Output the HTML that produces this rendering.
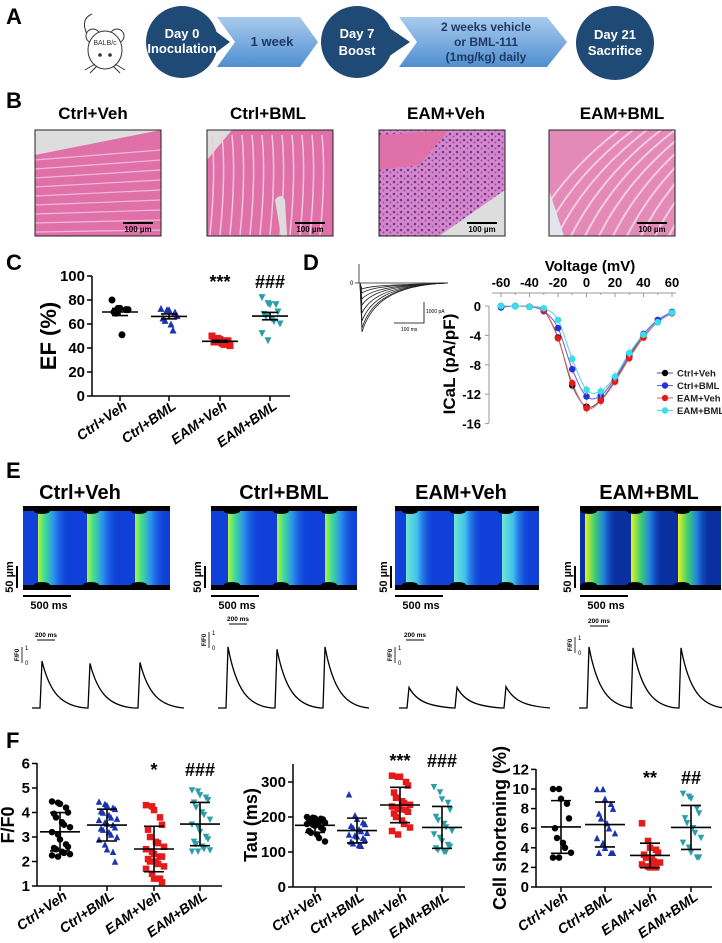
<!DOCTYPE html>
<html><head><meta charset="utf-8"><style>
body{margin:0;background:#fff}
svg{display:block;font-family:"Liberation Sans",Arial,sans-serif}
</style></head><body>
<svg id="fig" width="722" height="943" viewBox="0 0 722 943" xmlns="http://www.w3.org/2000/svg">
<defs>
<linearGradient id="arrowGrad" x1="0" y1="0" x2="0" y2="1"><stop offset="0" stop-color="#a9cbee"/><stop offset="1" stop-color="#4f8fd0"/></linearGradient>
<linearGradient id="bandG" x1="0" y1="0" x2="1" y2="0"><stop offset="0" stop-color="#b8f040"/><stop offset="0.2" stop-color="#40e090"/><stop offset="0.5" stop-color="#2c8ff0"/><stop offset="1" stop-color="#1040d8" stop-opacity="0"/></linearGradient>
<linearGradient id="bandC" x1="0" y1="0" x2="1" y2="0"><stop offset="0" stop-color="#70e8d0"/><stop offset="0.4" stop-color="#40c0f0"/><stop offset="1" stop-color="#1040d8" stop-opacity="0"/></linearGradient>
<linearGradient id="bandY" x1="0" y1="0" x2="1" y2="0"><stop offset="0" stop-color="#e8f020"/><stop offset="0.3" stop-color="#40d070"/><stop offset="0.6" stop-color="#2080e0"/><stop offset="1" stop-color="#0a30b0" stop-opacity="0"/></linearGradient>
<pattern id="nuclei" width="7" height="6" patternUnits="userSpaceOnUse"><rect width="7" height="6" fill="#d888c8"/><circle cx="2" cy="2" r="1.3" fill="#6a3a9a"/><circle cx="5.5" cy="4.5" r="1" fill="#8a50b0"/></pattern>
<clipPath id="clipB0"><rect x="35" y="130" width="126" height="106"/></clipPath>
<clipPath id="clipB1"><rect x="207" y="130" width="126" height="106"/></clipPath>
<clipPath id="clipB2"><rect x="379" y="130" width="126" height="106"/></clipPath>
<clipPath id="clipB3"><rect x="549" y="130" width="126" height="106"/></clipPath>
</defs>

<g>
<text x="6" y="24" font-size="22" font-weight="bold">A</text>
<g fill="#fff" stroke="#333" stroke-width="1">
<path d="M90 40 Q78 20 92 14" fill="none"/>
<circle cx="93" cy="36" r="7"/><circle cx="117" cy="36" r="7"/>
<ellipse cx="105" cy="50" rx="17" ry="19"/>
<circle cx="100" cy="55" r="1.3" fill="#333"/><circle cx="110" cy="55" r="1.3" fill="#333"/>
<path d="M95 64 L85 70 M115 64 L125 70 M97 66 L90 73 M113 66 L120 73" fill="none"/>
<text x="105" y="45" font-size="7" text-anchor="middle" fill="#333" stroke="none">BALB/c</text>
</g>
<g>
<circle cx="182" cy="42" r="36" fill="#1f4a75"/><polygon points="182,6 230,42 182,78" fill="#1f4a75"/>
<text x="182" y="38" font-size="13" font-weight="bold" fill="#fff" text-anchor="middle">Day 0</text>
<text x="182" y="53" font-size="13" font-weight="bold" fill="#fff" text-anchor="middle">Inoculation</text></g>
<g>
<polygon points="217,17 300,17 318,42 300,67 217,67 235,42" fill="url(#arrowGrad)"/>
<text x="272" y="46" font-size="13" font-weight="bold" fill="#1f3864" text-anchor="middle">1 week</text></g>
<g>
<circle cx="357" cy="42" r="36" fill="#1f4a75"/><polygon points="357,6 410,42 357,78" fill="#1f4a75"/>
<text x="357" y="38" font-size="13" font-weight="bold" fill="#fff" text-anchor="middle">Day 7</text>
<text x="357" y="55" font-size="13" font-weight="bold" fill="#fff" text-anchor="middle">Boost</text></g>
<g>
<polygon points="399,17 547,17 567,42 547,67 399,67 417,42" fill="url(#arrowGrad)"/>
<text x="486" y="31" font-size="12" font-weight="bold" fill="#1f3864" text-anchor="middle">2 weeks vehicle</text>
<text x="486" y="46" font-size="12" font-weight="bold" fill="#1f3864" text-anchor="middle">or BML-111</text>
<text x="486" y="61" font-size="12" font-weight="bold" fill="#1f3864" text-anchor="middle">(1mg/kg) daily</text></g>
<g>
<ellipse cx="615" cy="43" rx="39" ry="37" fill="#1f4a75"/>
<text x="615" y="39" font-size="13" font-weight="bold" fill="#fff" text-anchor="middle">Day 21</text>
<text x="615" y="55" font-size="13" font-weight="bold" fill="#fff" text-anchor="middle">Sacrifice</text></g>
</g>

<g id="panelB">
<text x="6" y="108" font-size="22" font-weight="bold">B</text>
</g>
<g id="panelC">
<text x="6" y="270" font-size="22" font-weight="bold">C</text>
</g>
<g id="panelD">
<text x="303" y="270" font-size="22" font-weight="bold">D</text>
</g>
<g id="panelE">
<text x="6" y="478" font-size="22" font-weight="bold">E</text>
</g>
<g id="panelF">
<text x="6" y="748" font-size="22" font-weight="bold">F</text>
</g>
</svg>
<script>
const groups = ["Ctrl+Veh","Ctrl+BML","EAM+Veh","EAM+BML"];
const efCtrlVeh = [80,73,73,72,72,70,69,51];
const efCtrlBml = [73,72,72,70,67,65,63,60,55];
const efEamVeh = [50,48,47,46,46,45,45,44,43,42];
const efEamBml = [82,77,76,76,70,68,66,64,62,60,52,46];
const efTicks = [0,20,40,60,80,100];

const voltages = [-60,-50,-40,-30,-20,-10,0,10,20,30,40,50,60];
const icalCtrlVeh = [0,0,-0.1,-0.6,-4.3,-10.8,-13.7,-12.8,-10.1,-6.9,-4.0,-2.1,-0.9];
const icalCtrlBml = [-0.2,0,-0.1,-0.7,-3.0,-8.6,-12.3,-12.2,-9.8,-6.6,-3.8,-1.9,-0.8];
const icalEamVeh = [0,0,-0.1,-0.6,-4.4,-10.5,-13.9,-12.9,-10.3,-7.1,-4.3,-2.2,-1.0];
const icalEamBml = [0,0,-0.1,-0.3,-1.9,-7.2,-11.4,-11.6,-9.6,-6.4,-3.9,-2.2,-0.9];
const icalXTicks = [-60,-40,-20,0,20,40,60];
const icalYTicks = [0,-4,-8,-12,-16];

const ffCtrlVeh = [4.45,4.4,4.35,4.2,4.0,3.95,3.8,3.6,3.5,3.4,3.2,3.1,2.9,2.7,2.6,2.55,2.5,2.4,2.35,2.3,2.25,2.2];
const ffCtrlBml = [4.45,4.35,4.3,4.2,4.15,4.05,4.0,3.9,3.8,3.75,3.7,3.6,3.55,3.5,3.4,3.35,3.3,3.2,3.1,3.0,2.9,2.7,2.5,2.4,2.0];
const ffEamVeh = [4.3,4.25,4.1,3.8,3.5,3.3,3.0,2.8,2.75,2.6,2.5,2.4,2.3,2.2,2.2,2.1,2.0,2.0,1.9,1.8,1.7,1.5,1.3,1.3,1.15];
const ffEamBml = [4.9,4.85,4.7,4.6,4.5,4.4,4.2,4.0,3.9,3.7,3.5,3.4,3.2,3.0,2.9,2.8,2.7,2.6,2.5,2.45,2.4,2.4];
const ffTicks = [1,2,3,4,5,6];

const tauCtrlVeh = [200,198,196,195,193,192,190,188,186,184,180,178,175,170,165,160,155,150,140,130];
const tauCtrlBml = [265,205,195,185,180,175,170,165,160,155,150,148,145,140,135,130,125,120,118];
const tauEamVeh = [318,315,315,300,290,270,255,245,240,235,230,225,222,220,215,210,200,190,180,170,160,150];
const tauEamBml = [285,270,250,240,220,200,190,180,170,160,150,140,130,120,115,110,105,100,100];
const tauTicks = [0,100,200,300];

const csCtrlVeh = [10,10,9,8.5,7,6,5,4.5,4,3.5,3,3];
const csCtrlBml = [10,10,9,8.5,8,7.5,7,6.5,6,5.5,5,4.5,4,3.5,3.5,3.5];
const csEamVeh = [6.5,4.7,4,3.8,3.5,3.3,3.0,2.8,2.6,2.5,2.3,2.1,2.0,2.0];
const csEamBml = [9.5,9.2,9,8,7.5,7,6.5,6,5.5,5,4.5,4,3.5,3,3];
const csTicks = [0,2,4,6,8,10,12];

const peakCtrlVeh = [1.0,0.95,0.97];
const peakCtrlBml = [1.3,1.25,1.3];
const peakEamVeh = [0.5,0.5,0.52];
const peakEamBml = [1.3,1.28,1.28];

const NS="http://www.w3.org/2000/svg";
function mk(parent,tag,attrs,text){const e=document.createElementNS(NS,tag);for(const k in attrs)e.setAttribute(k,attrs[k]);if(text!==undefined)e.textContent=text;parent.appendChild(e);return e;}
const colors=["#000","#1b33b0","#e51a1a","#2a9fa9"];
function marker(g,shape,x,y,s,c){
  let el;
  if(shape==="circle") el=mk(g,"circle",{cx:x,cy:y,r:s/2,fill:c});
  else if(shape==="square") el=mk(g,"rect",{x:x-s/2,y:y-s/2,width:s,height:s,fill:c});
  else if(shape==="up") el=mk(g,"polygon",{points:`${x},${y-s/2} ${x+s/2},${y+s/2} ${x-s/2},${y+s/2}`,fill:c});
  else el=mk(g,"polygon",{points:`${x-s/2},${y-s/2} ${x+s/2},${y-s/2} ${x},${y+s/2}`,fill:c});
  return el;
}
const shapes=["circle","up","square","down"];
function stats(a){const m=a.reduce((s,v)=>s+v,0)/a.length;const sd=Math.sqrt(a.reduce((s,v)=>s+(v-m)*(v-m),0)/(a.length-1));return{m,sd,sem:sd/Math.sqrt(a.length)};}

function scatterChart(g,o){
  const {ax,x1,y0,yTop,ysc,ticks,cats,series,err,ms,mean,cap,jit,signs,signY,fs}=o;
  mk(g,"line",{x1:ax,y1:yTop,x2:ax,y2:y0,stroke:"#000","stroke-width":1.5});
  mk(g,"line",{x1:ax,y1:y0,x2:x1,y2:y0,stroke:"#000","stroke-width":1.5});
  ticks.forEach(t=>{const y=ysc(t);
    const tl=mk(g,"line",{x1:ax-5,y1:y,x2:ax,y2:y,stroke:"#000","stroke-width":1.5});
    
    
    const tx=mk(g,"text",{x:ax-7,y:y+5,"font-size":fs||15,"font-weight":"bold","text-anchor":"end"},String(t));
    
    
  });
  cats.forEach((cx,i)=>{
    mk(g,"line",{x1:cx,y1:y0,x2:cx,y2:y0+5,stroke:"#000","stroke-width":1.5});
    const lb=mk(g,"text",{x:cx+8,y:y0+12,"font-size":14,"font-weight":"bold","font-style":"italic","text-anchor":"end",transform:`rotate(-35 ${cx+8} ${y0+12})`},groups[i]);
    
    
    const data=series[i];const sg=mk(g,"g",{});
    
    
    data.forEach((v,j)=>{const off=((j%5)-2)*jit+((j%2)?jit/2:0);
      const p=marker(sg,shapes[i],cx+off,ysc(v),ms,colors[i]);
      
      
    });
    const st=stats(data);const e=err==="sd"?st.sd:st.sem;
    const eg=mk(g,"g",{stroke:"#000","stroke-width":1.6});
    
    
    mk(eg,"line",{x1:cx-mean,y1:ysc(st.m),x2:cx+mean,y2:ysc(st.m)});
    mk(eg,"line",{x1:cx,y1:ysc(st.m+e),x2:cx,y2:ysc(st.m-e)});
    mk(eg,"line",{x1:cx-cap,y1:ysc(st.m+e),x2:cx+cap,y2:ysc(st.m+e)});
    mk(eg,"line",{x1:cx-cap,y1:ysc(st.m-e),x2:cx+cap,y2:ysc(st.m-e)});
    if(signs&&signs[i]){const s=mk(g,"text",{x:cx,y:signY[i],"font-size":18,"font-weight":"bold","text-anchor":"middle"},signs[i]);
      
      }
  });
}

const B=document.getElementById("panelB");
const bX=[35,207,379,549];
const bTitleX=[93,268,446,622];
groups.forEach((gname,i)=>{
  const t=mk(B,"text",{x:bTitleX[i],y:119,"font-size":17,"font-weight":"bold","text-anchor":"middle"},gname);
  
  
  const outer=mk(B,"g",{});
  
  
  const g=mk(outer,"g",{"clip-path":`url(#clipB${i})`});
  const x=bX[i],y=130,w=126,h=106;
  mk(g,"rect",{x,y,width:w,height:h,fill:i===2?"url(#nuclei)":(i===3?"#e48ab8":"#e070a8")});
  if(i===0){mk(g,"polygon",{points:`${x},${y} ${x+w},${y} ${x},${y+25}`,fill:"#ddd"});
    for(let k=0;k<9;k++)mk(g,"line",{x1:x,y1:y+30+k*9,x2:x+w,y2:y+20+k*10,stroke:"#f4b8d8","stroke-width":1.2});}
  if(i===1){mk(g,"polygon",{points:`${x},${y} ${x+25},${y} ${x},${y+30}`,fill:"#ddd"});
    for(let k=0;k<12;k++)mk(g,"path",{d:`M${x+5+k*10} ${y+5} q4 40 -2 100`,stroke:"#f6c6dc","stroke-width":1.5,fill:"none"});
    mk(g,"path",{d:`M${x+68} ${y+70} q6 -8 10 0 l2 36 h-6 z`,fill:"#ddd"});}
  if(i===2){mk(g,"polygon",{points:`${x},${y+5} ${x+70},${y} ${x+40},${y+35} ${x},${y+40}`,fill:"#e070a8"});
    mk(g,"polygon",{points:`${x+60},${y+h} ${x+w},${y+60} ${x+w},${y+h}`,fill:"#ddd"});}
  if(i===3){for(let k=0;k<12;k++)mk(g,"path",{d:`M${x-20+k*14} ${y+h} q30 -60 90 -${h}`,stroke:"#f6cce0","stroke-width":2,fill:"none"});
    mk(g,"polygon",{points:`${x},${y+60} ${x+15},${y+h} ${x},${y+h}`,fill:"#e4e4ec"});}
  mk(outer,"rect",{x,y,width:w,height:h,fill:"none",stroke:"#222","stroke-width":1});
  mk(outer,"line",{x1:x+w-38,y1:y+93,x2:x+w-8,y2:y+93,stroke:"#000","stroke-width":2});
  mk(outer,"text",{x:x+w-23,y:y+102,"font-size":8,"font-weight":"bold","text-anchor":"middle"},"100 µm");
});

const C=document.getElementById("panelC");
const efY=v=>396-1.2*v;
scatterChart(C,{ax:92,x1:290,y0:396,yTop:276,ysc:efY,ticks:efTicks,cats:[120,169,220,270],
  series:[efCtrlVeh,efCtrlBml,efEamVeh,efEamBml],err:"sem",ms:7,mean:18,cap:8,jit:4,
  signs:["","","***","###"],signY:[0,0,288,288],fs:15});
{const t=mk(C,"text",{x:56,y:336,"font-size":22,"font-weight":"bold","text-anchor":"middle",transform:"rotate(-90 56 336)"},"EF (%)");
}

const D=document.getElementById("panelD");
{const g=mk(D,"g",{fill:"none",stroke:"#222","stroke-width":0.8});

mk(g,"line",{x1:359,y1:264,x2:359,y2:283});
mk(g,"line",{x1:355,y1:283,x2:448,y2:283});
[6,10,16,22,30,38,45,49].forEach(d=>{mk(g,"path",{d:`M360 283 L362 ${283+d} C370 ${283+d*0.45} 390 285 448 283`});});
mk(g,"path",{d:"M424 302 V323 H394",stroke:"#000"});
mk(D,"text",{x:350,y:285,"font-size":6},"0");
mk(D,"text",{x:426,y:313,"font-size":5},"1000 pA");
mk(D,"text",{x:401,y:331,"font-size":5},"100 ms");}
const dx=v=>501+1.425*(v+60);
const dy=v=>306-7.35*v;
mk(D,"line",{x1:492,y1:293,x2:676,y2:293,stroke:"#999","stroke-width":1});
icalXTicks.forEach(t=>{mk(D,"line",{x1:dx(t),y1:293,x2:dx(t),y2:297,stroke:"#999"});
  const tx=mk(D,"text",{x:dx(t),y:287,"font-size":13,"font-weight":"bold","text-anchor":"middle"},String(t));
  });
voltages.forEach(v=>mk(D,"line",{x1:dx(v),y1:293,x2:dx(v),y2:295,stroke:"#999"}));
mk(D,"line",{x1:489,y1:306,x2:489,y2:423,stroke:"#999","stroke-width":1});
icalYTicks.forEach(t=>{mk(D,"line",{x1:485,y1:dy(t),x2:489,y2:dy(t),stroke:"#999"});
  const tx=mk(D,"text",{x:481,y:dy(t)+5,"font-size":13,"font-weight":"bold","text-anchor":"end"},String(t));
  });
{const t=mk(D,"text",{x:590,y:271,"font-size":15,"font-weight":"bold","text-anchor":"middle"},"Voltage (mV)");

const t2=mk(D,"text",{x:455,y:364,"font-size":17,"font-weight":"bold","text-anchor":"middle",transform:"rotate(-90 455 364)"},"ICaL (pA/pF)");
}
const dColors=["#000","#2233dd","#e51a1a","#33e0f0"];
const lineColors=["#555","#6a5be0","#e06060","#5ad0e0"];
[icalCtrlVeh,icalCtrlBml,icalEamVeh,icalEamBml].forEach((arr,si)=>{
  const pts=voltages.map((v,i)=>[dx(v),dy(arr[i])]);
  let d=`M${pts[0][0]} ${pts[0][1]}`;
  for(let i=0;i<pts.length-1;i++){const p0=pts[Math.max(0,i-1)],p1=pts[i],p2=pts[i+1],p3=pts[Math.min(pts.length-1,i+2)];
    d+=` C${p1[0]+(p2[0]-p0[0])/6} ${p1[1]+(p2[1]-p0[1])/6} ${p2[0]-(p3[0]-p1[0])/6} ${p2[1]-(p3[1]-p1[1])/6} ${p2[0]} ${p2[1]}`;}
  const l=mk(D,"path",{d,fill:"none",stroke:lineColors[si],"stroke-width":1});
  
  
});
[icalCtrlVeh,icalCtrlBml,icalEamVeh,icalEamBml].forEach((arr,si)=>{
  voltages.forEach((v,i)=>{
    if(arr[i]<-5) mk(D,"line",{x1:dx(v),y1:dy(arr[i])-5,x2:dx(v),y2:dy(arr[i])+5,stroke:"#f0a0a0","stroke-width":0.8});
    const c=mk(D,"circle",{cx:dx(v),cy:dy(arr[i]),r:3.3,fill:dColors[si]});
    
    
  });
});
groups.forEach((gname,i)=>{const y=373+i*12.5;
  const lg=mk(D,"g",{});
  
  
  mk(lg,"line",{x1:657,y1:y,x2:673,y2:y,stroke:lineColors[i]});
  mk(lg,"circle",{cx:665,cy:y,r:3.2,fill:dColors[i]});
  mk(lg,"text",{x:677,y:y+3.5,"font-size":9.5,"font-weight":"bold","fill":"#222"},gname);
});

const E=document.getElementById("panelE");
const eImg=[[23,170,[38,87,135],"url(#bandG)"],[211,357,[228,277,325],"url(#bandG)"],[395,539,[406,454,502],"url(#bandC)"],[580,721,[585,631,678],"url(#bandY)"]];
const eTitleX=[80,284,461,649];
const tracePeaks=[[42,90,140],[228,277,325],[409,457,506],[589,633,681]];
const peakArrs=[peakCtrlVeh,peakCtrlBml,peakEamVeh,peakEamBml];
groups.forEach((gname,i)=>{
  const t=mk(E,"text",{x:eTitleX[i],y:499,"font-size":20,"font-weight":"bold","text-anchor":"middle"},gname);
  
  const [x0,x1,bands,fill]=eImg[i];
  const g=mk(E,"g",{});
  
  
  mk(g,"rect",{x:x0,y:506,width:x1-x0,height:84,fill:i===3?"#0a2fa0":"#1040d8"});
  bands.forEach(b=>mk(g,"rect",{x:b,y:511,width:(i===2?28:32),height:74,fill:fill}));
  mk(g,"rect",{x:x0,y:506,width:x1-x0,height:5,fill:"#000"});
  mk(g,"rect",{x:x0,y:585,width:x1-x0,height:5,fill:"#000"});
  bands.forEach(b=>{mk(g,"ellipse",{cx:b+4,cy:511,rx:8,ry:3,fill:"#000"});mk(g,"ellipse",{cx:b+4,cy:585,rx:8,ry:3,fill:"#000"});});
  const sx=[17,205,391,575][i];
  mk(E,"line",{x1:sx,y1:566,x2:sx,y2:588,stroke:"#000","stroke-width":2});
  mk(E,"text",{x:sx-4,y:577,"font-size":11,"font-weight":"bold","text-anchor":"middle",transform:`rotate(-90 ${sx-4} 577)`},"50 µm");
  mk(E,"line",{x1:x0,y1:596,x2:x0+48,y2:596,stroke:"#000","stroke-width":2});
  mk(E,"text",{x:x0+26,y:609,"font-size":11,"font-weight":"bold","text-anchor":"middle"},"500 ms");
  const base=708,unit=(i===2?41:47);
  const pk=tracePeaks[i];
  let d=`M${pk[0]-10} ${base}`;
  pk.forEach((p,k)=>{const amp=peakArrs[i][k]*unit;const ty=base-amp;
    d+=` L${p-2} ${base} L${p} ${ty} C${p+8} ${ty+amp*0.7} ${p+20} ${base-2} ${p+44} ${base}`;});
  const tr=mk(E,"path",{d,fill:"none",stroke:"#000","stroke-width":1.3});
  
  
  const ax=[22,209,395,575][i];const y1v=[647,632,647,637][i];
  mk(E,"line",{x1:ax,y1:y1v,x2:ax,y2:y1v+16,stroke:"#000","stroke-width":0.8});
  mk(E,"text",{x:ax+3,y:y1v+3,"font-size":6},"1");
  mk(E,"text",{x:ax+3,y:y1v+18,"font-size":6},"0");
  mk(E,"text",{x:ax-3,y:y1v+8,"font-size":6,"font-weight":"bold","text-anchor":"middle",transform:`rotate(-90 ${ax-3} ${y1v+8})`},"F/F0");
  const sb=[[37,640],[229,624],[406,640],[590,626]][i];
  mk(E,"line",{x1:sb[0],y1:sb[1],x2:sb[0]+18,y2:sb[1],stroke:"#000","stroke-width":1});
  mk(E,"text",{x:sb[0]+9,y:sb[1]-3,"font-size":6.5,"font-weight":"bold","text-anchor":"middle"},"200 ms");
});

const F=document.getElementById("panelF");
const g1=mk(F,"g",{});
scatterChart(g1,{ax:37,x1:222,y0:886,yTop:763,ysc:v=>886-24.5*(v-1),ticks:ffTicks,cats:[60,107,154,200],
  series:[ffCtrlVeh,ffCtrlBml,ffEamVeh,ffEamBml],err:"sd",ms:6.5,mean:20,cap:10,jit:4,
  signs:["","","*","###"],signY:[0,0,776,776],fs:15});
const g2=mk(F,"g",{});
scatterChart(g2,{ax:293,x1:465,y0:887,yTop:764,ysc:v=>887-0.35*v,ticks:tauTicks,cats:[315,357,400,442],
  series:[tauCtrlVeh,tauCtrlBml,tauEamVeh,tauEamBml],err:"sd",ms:6.5,mean:20,cap:10,jit:4,
  signs:["","","***","###"],signY:[0,0,767,767],fs:15});
const g3=mk(F,"g",{});
scatterChart(g3,{ax:536,x1:712,y0:887,yTop:769,ysc:v=>887-9.8*v,ticks:csTicks,cats:[561,605,650,691],
  series:[csCtrlVeh,csCtrlBml,csEamVeh,csEamBml],err:"sd",ms:6.5,mean:20,cap:10,jit:4,
  signs:["","","**","##"],signY:[0,0,784,784],fs:15});
[["F/F0",14,825],["Tau (ms)",257,825],["Cell shortening (%)",506,828]].forEach(([s,x,y])=>{
  const t=mk(F,"text",{x,y,"font-size":18,"font-weight":"bold","text-anchor":"middle",transform:`rotate(-90 ${x} ${y})`},s);
  
  
});
</script>
</body></html>
